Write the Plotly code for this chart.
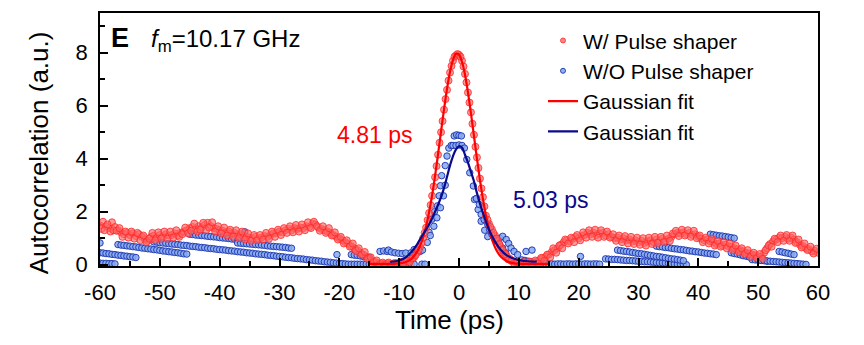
import numpy as np
import plotly.graph_objects as go

# ---------------- data ----------------
# W/ pulse shaper: samples every 0.5 ps from -60 ps
red_t0 = -60.0
red_dt = 0.5
red_v = [
    1.48, 1.62, 1.45, 1.38, 1.60, 1.42, 1.30, 1.22, 1.15, 1.20,   # -60
    1.12, 1.18, 1.08, 1.15, 1.05, 0.95, 0.90, 1.05, 1.10, 1.02,   # -55
    1.12, 1.08, 1.15, 1.10, 1.12, 1.18, 1.10, 1.20, 1.25, 1.30,   # -50
    1.38, 1.42, 1.35, 1.45, 1.40, 1.50, 1.58, 1.45, 1.38, 1.35,   # -45
    1.30, 1.28, 1.22, 1.25, 1.18, 1.20, 1.12, 1.15, 1.08, 1.05,   # -40
    1.02, 0.98, 1.05, 0.98, 1.02, 1.08, 1.05, 1.12, 1.18, 1.20,   # -35
    1.25, 1.22, 1.30, 1.35, 1.30, 1.38, 1.35, 1.40, 1.38, 1.45,   # -30
    1.42, 1.55, 1.52, 1.40, 1.35, 1.30, 1.25, 1.20, 1.12, 1.05,   # -25
    1.00, 0.92, 0.85, 0.78, 0.70, 0.62, 0.55, 0.45, 0.38, 0.30,   # -20
    0.22, 0.15, 0.10, 0.06, 0.04, 0.03, 0.05, 0.03, 0.04, 0.05,   # -15
    0.06, 0.08, 0.10, 0.14, 0.20, 0.28, 0.45, 0.68, 1.00, 1.40,   # -10
    1.95, 2.60, 3.30, 4.15, 5.00, 5.85, 6.60, 7.25, 7.70, 7.90,   # -5
    7.92, 7.70, 7.20, 6.50, 5.75, 4.90, 4.05, 3.25, 2.55, 1.85,   # 0
    1.55, 1.33, 1.10, 0.89, 0.65, 0.45, 0.32, 0.22, 0.13, 0.08,   # 5
    0.04, 0.05, 0.04, 0.06, 0.05, 0.08, 0.12, 0.18, 0.25, 0.30,   # 10
    0.38, 0.48, 0.55, 0.62, 0.75, 0.85, 0.92, 0.88, 0.98, 1.05,   # 15
    1.00, 1.08, 1.12, 1.20, 1.15, 1.20, 1.12, 1.18, 1.20, 1.10,   # 20
    1.15, 1.05, 1.00, 1.02, 0.95, 1.00, 0.92, 0.95, 0.88, 0.92,   # 25
    0.85, 0.90, 0.82, 0.88, 0.92, 0.85, 0.95, 0.90, 0.98, 0.92,   # 30
    0.98, 1.05, 1.15, 1.20, 1.18, 1.22, 1.15, 1.20, 1.12, 1.15,   # 35
    1.05, 0.98, 0.92, 0.95, 0.88, 0.85, 0.78, 0.80, 0.72, 0.75,   # 40
    0.70, 0.68, 0.62, 0.58, 0.55, 0.50, 0.45, 0.42, 0.38, 0.35,   # 45
    0.32, 0.30, 0.45, 0.62, 0.78, 0.88, 0.95, 1.02, 1.00, 1.05,   # 50
    0.98, 1.02, 0.95, 0.85, 0.75, 0.70, 0.62, 0.58, 0.50, 0.52,   # 55
    0.45,                                                         # 60
]
# W/ samples between the 0.5 ps grid, left baseline (from -59.75 ps)
red_left2_t0 = -59.75
red_left2_v = [
    1.35, 1.30, 1.52, 1.25, 1.30, 1.28, 1.38, 1.05, 1.25, 1.02,
    1.25, 0.98, 1.20, 0.92, 1.10, 0.85, 0.98, 1.20, 0.92, 1.22,
    0.98, 1.25, 0.98, 1.25, 1.02, 1.30, 1.05, 1.15, 1.40, 1.18,
    1.28, 1.55, 1.25, 1.32, 1.58, 1.30, 1.40, 1.60, 1.25, 1.45,
    1.18, 1.40, 1.10, 1.32, 1.05, 1.30, 1.00, 1.25, 0.95, 1.18,
    0.90, 1.12, 0.92, 1.12, 0.95, 1.20, 0.98, 1.25, 1.05, 1.32,
    1.12, 1.38, 1.20, 1.45, 1.22, 1.50, 1.25, 1.52, 1.30, 1.60,
    1.38, 1.62, 1.45, 1.28, 1.45, 1.20, 1.38, 1.10, 1.22, 0.95,
    1.05, 0.80, 0.92, 0.68, 0.80, 0.52, 0.62, 0.38, 0.48, 0.22,
    0.28, 0.10, 0.16, 0.02, 0.08, 0.00, 0.08, 0.01, 0.06, 0.02,
    0.10, 0.05, 0.14, 0.10,
]
# W/ samples between the 0.5 ps grid, right baseline (from 8.25 ps)
red_right2_t0 = 8.25
red_right2_v = [
    0.20, 0.14, 0.02, 0.10,
    0.00, 0.10, 0.01, 0.12, 0.02, 0.16, 0.04, 0.26, 0.14, 0.38,
    0.28, 0.62, 0.45, 0.72, 0.62, 0.95, 0.80, 1.02, 0.85, 1.12,
    0.92, 1.22, 1.02, 1.30, 1.05, 1.32, 1.02, 1.30, 1.05, 1.25,
    1.02, 1.15, 0.90, 1.10, 0.85, 1.08, 0.80, 1.05, 0.78, 1.02,
    0.75, 1.00, 0.72, 1.02, 0.78, 1.05, 0.82, 1.05, 0.85, 1.10,
    0.90, 1.18, 1.28, 1.08, 1.32, 1.10, 1.30, 1.05, 1.28, 1.00,
    1.10, 0.85, 1.02, 0.80, 0.98, 0.72, 0.90, 0.68, 0.85, 0.62,
    0.80, 0.55, 0.72, 0.48, 0.62, 0.40, 0.55, 0.30, 0.45, 0.25,
    0.40, 0.22, 0.55, 0.72, 0.68, 0.98, 0.85, 1.10, 0.90, 1.12,
    0.90, 1.10, 0.82, 0.95, 0.65, 0.80, 0.55, 0.68, 0.42, 0.60,
]
# extra W/ samples on the peak (between the 0.5 ps grid)
red_peak_t = [-7.75, -7.25, -6.75, -6.25, -5.75, -5.25, -4.75, -4.25,
              -3.75, -3.25, -2.75, -2.25, -1.75, -1.25, -0.75, -0.25,
              0.25, 0.75, 1.25, 1.75, 2.25, 2.75, 3.25, 3.75,
              4.25, 4.75, 5.25, 5.75, 6.25, 6.75, 7.25, 7.75]
red_peak_v = [0.24, 0.36, 0.55, 0.82, 1.20, 1.68, 2.25, 2.95,
              3.72, 4.60, 5.42, 6.25, 6.95, 7.50, 7.85, 7.95,
              7.85, 7.48, 6.88, 6.12, 5.32, 4.45, 3.65, 2.88,
              2.20, 1.70, 1.42, 1.20, 0.98, 0.78, 0.55, 0.40]

# W/O pulse shaper: interleaved stripes (start time, 0.5 ps spacing)
blue_dt = 0.5
blue_stripe_start = [-60.0, -60.0, -57.0, -51.0, -45.0, -37.0, -18.0,
                     10.5, 13.0, 24.5, 26.5, 33.0, 42.0, 45.5, 49.0, 53.5]
blue_stripe_values = [
    [0.06, 0.05, 0.05, 0.04, 0.04, 0.03],
    [0.45, 0.44, 0.42, 0.41, 0.39, 0.38, 0.36, 0.35, 0.33, 0.32, 0.30, 0.29, 0.27],
    [0.76, 0.74, 0.73, 0.71, 0.70, 0.68, 0.67, 0.65, 0.63, 0.62, 0.60, 0.59,
     0.57, 0.56, 0.54, 0.52, 0.51, 0.49, 0.48, 0.46, 0.45, 0.43, 0.41, 0.40],
    [0.86, 0.85, 0.83, 0.82, 0.81, 0.79, 0.78, 0.77, 0.76, 0.74,
     0.73, 0.72, 0.70, 0.69, 0.68, 0.66, 0.65, 0.64, 0.62, 0.61,
     0.60, 0.58, 0.57, 0.56, 0.55, 0.53, 0.52, 0.51, 0.49, 0.48,
     0.47, 0.45, 0.44, 0.43, 0.41, 0.40, 0.39, 0.38, 0.36, 0.35,
     0.34, 0.32, 0.31, 0.30, 0.28, 0.27, 0.26, 0.24, 0.23, 0.22,
     0.21, 0.19, 0.18, 0.17, 0.15, 0.14, 0.13, 0.11, 0.10, 0.09,
     0.07, 0.06, 0.05, 0.04, 0.03, 0.02, 0.02, 0.02, 0.02, 0.02,
     0.02, 0.02, 0.02, 0.02],
    [1.15, 1.14, 1.12, 1.11, 1.10, 1.09, 1.07, 1.06, 1.05, 1.04, 1.02, 1.01,
     1.00, 0.99, 0.97, 0.96, 0.95],
    [0.82, 0.81, 0.80, 0.79, 0.78, 0.77, 0.76, 0.75, 0.74, 0.73, 0.71, 0.70,
     0.69, 0.68, 0.67, 0.66, 0.65, 0.63, 0.62],
    [0.38, 0.36, 0.35, 0.33, 0.31, 0.30, 0.28],
    [0.18, 0.16, 0.13, 0.11, 0.08, 0.06],
    [0.04, 0.03, 0.03, 0.04, 0.03, 0.03, 0.02, 0.03, 0.03, 0.02, 0.03,
     0.03, 0.02, 0.03, 0.03, 0.02, 0.03, 0.03, 0.02, 0.03, 0.03, 0.02],
    [0.22, 0.21, 0.20, 0.20, 0.19, 0.18, 0.17, 0.16, 0.16, 0.15, 0.14, 0.13,
     0.12, 0.11, 0.11, 0.10, 0.09, 0.08, 0.07, 0.07, 0.06, 0.05, 0.04, 0.03,
     0.02, 0.02, 0.01, 0.00],
    [0.55, 0.53, 0.51, 0.50, 0.48, 0.46, 0.44, 0.42, 0.41, 0.39, 0.37, 0.35,
     0.33, 0.31, 0.30, 0.28, 0.26, 0.24, 0.22, 0.21, 0.19, 0.17, 0.15],
    [0.70, 0.68, 0.67, 0.65, 0.64, 0.62, 0.60, 0.59, 0.57, 0.56, 0.54, 0.52,
     0.51, 0.49, 0.48, 0.46, 0.44, 0.43, 0.41, 0.40, 0.38],
    [1.15, 1.13, 1.11, 1.09, 1.08, 1.06, 1.04, 1.02, 1.00],
    [0.45, 0.42, 0.40, 0.37, 0.34, 0.32, 0.29, 0.26, 0.24, 0.21, 0.18, 0.16, 0.13],
    [0.19, 0.18, 0.17, 0.16, 0.15, 0.14, 0.13, 0.12, 0.11, 0.10, 0.09, 0.08,
     0.07, 0.06, 0.05, 0.04, 0.03, 0.02, 0.01],
    [0.50, 0.48, 0.45, 0.43, 0.40, 0.38],
]
# W/O pulse shaper: individual points (peak region and isolated samples)
blue_pts_t = [-13.2, -12.6, -12.0, -11.8, -11.3, -10.7, -10.1, -9.5, -8.9, -8.0,
              -7.5, -7.0, -6.5, -6.1,
              -9.5, -9.0, -8.5, -8.0, -7.5, -6.2, -5.7,
              -5.3, -5.0, -4.8, -4.5, -4.2, -4.1, -3.7, -3.6, -3.3, -3.1,
              -3.1, -2.9, -2.6, -2.3, -2.3, -2.0, -1.7, -1.3, -1.0, -0.8,
              -0.4, 0.0, 0.4, -0.5, 0.0, 0.5, 0.9,
              1.3, 1.8, 2.4, 2.6, 3.2, 3.7, 4.3, 4.8,
              2.9, 3.4, 3.7, 4.2, 4.8, 5.1, 5.5, 5.9, 6.3, 6.8,
              7.3, 7.9, 8.3, 8.7, 9.2, 9.8, 6.2, 6.8, 7.3, 7.8,
              11.2, 12.2, 20.3, -20.4, -35.8, -60.0]
blue_pts_v = [0.50, 0.52, 0.50, 0.55, 0.48, 0.45, 0.43, 0.42, 0.44, 0.45,
              0.57, 0.55, 0.50, 0.55,
              0.02, 0.02, 0.02, 0.02, 0.02, 0.02, 0.02,
              0.84, 1.22, 1.10, 1.72, 1.45, 2.00, 1.77, 2.22, 2.60, 2.15,
              2.98, 3.36, 2.60, 3.00, 3.74, 4.10, 4.40, 4.50, 4.50, 4.86,
              4.90, 4.88, 4.86, 4.50, 4.52, 4.50, 4.40,
              3.97, 3.47, 2.97, 2.46, 2.08, 1.64, 1.30, 1.06,
              2.50, 2.27, 1.90, 1.70, 1.52, 1.33, 1.15, 1.00, 0.95, 1.00,
              1.07, 0.95, 0.80, 0.63, 0.50, 0.38, 0.90, 0.75, 0.62, 0.45,
              0.50, 0.55, 0.31, 0.38, 1.24, 0.82]

# Gaussian fits
red_fit_t = [-15, -13, -11, -10, -9, -8, -7, -6.5, -6, -5.5, -5, -4.5, -4, -3.5,
             -3, -2.5, -2, -1.5, -1, -0.5, 0, 0.5, 1, 1.5, 2, 2.5, 3, 3.5, 4,
             4.5, 5, 5.5, 6, 6.5, 7, 8, 9, 10, 11, 13, 15]
red_fit_v = [0.03, 0.03, 0.03, 0.05, 0.09, 0.21, 0.49, 0.72, 1.03, 1.45, 1.98,
             2.61, 3.35, 4.17, 5.03, 5.87, 6.64, 7.28, 7.73, 7.96, 7.93, 7.66,
             7.17, 6.50, 5.71, 4.86, 4.00, 3.20, 2.48, 1.86, 1.36, 0.96, 0.67,
             0.45, 0.30, 0.13, 0.06, 0.04, 0.03, 0.03, 0.03]
blue_fit_t = [-11.5, -10, -9, -8, -7, -6, -5, -4, -3, -2.5, -2, -1.5, -1, -0.5,
              0, 0.5, 1, 1.5, 2, 2.5, 3, 4, 5, 6, 7, 8, 9, 10, 11, 12, 13]
blue_fit_v = [0.10, 0.16, 0.26, 0.47, 0.77, 1.15, 1.52, 2.00, 2.55, 2.90, 3.32,
              3.75, 4.10, 4.35, 4.47, 4.42, 4.15, 3.85, 3.50, 3.15, 2.70, 1.95,
              1.33, 0.88, 0.55, 0.35, 0.24, 0.17, 0.14, 0.12, 0.12]

x_range = [-60, 60]
y_range = [-0.05, 9.5]
x_tick_vals = [-60, -50, -40, -30, -20, -10, 0, 10, 20, 30, 40, 50, 60]
x_tick_text = ["-60", "-50", "-40", "-30", "-20", "-10", "0", "10", "20", "30", "40", "50", "60"]

# ---------------- assemble ----------------
red_x = (list(red_t0 + red_dt * np.arange(len(red_v)))
         + list(red_left2_t0 + red_dt * np.arange(len(red_left2_v)))
         + list(red_right2_t0 + red_dt * np.arange(len(red_right2_v)))
         + red_peak_t)
red_y = list(red_v) + red_left2_v + red_right2_v + red_peak_v

blue_x, blue_y = [], []
for s, vals in zip(blue_stripe_start, blue_stripe_values):
    blue_x += list(s + blue_dt * np.arange(len(vals)))
    blue_y += vals
blue_x += blue_pts_t
blue_y += blue_pts_v

FONT = "Liberation Sans, Arial, sans-serif"
RED = "#ff0000"
NAVY = "#0a0a8c"

fig = go.Figure()
blue_marker = dict(size=6.5, color="rgba(135,170,238,0.85)",
                   line=dict(color="rgba(25,50,175,0.9)", width=1))
red_marker = dict(size=7, color="rgba(255,100,100,0.65)",
                  line=dict(color="rgba(255,40,40,0.8)", width=1))

fig.add_trace(go.Scatter(x=blue_x, y=blue_y, mode="markers", marker=blue_marker,
                         showlegend=False))
fig.add_trace(go.Scatter(x=red_x, y=red_y, mode="markers", marker=red_marker,
                         showlegend=False))
fig.add_trace(go.Scatter(x=red_fit_t, y=red_fit_v, mode="lines", line_shape="spline",
                         line=dict(color=RED, width=2.2), showlegend=False))
fig.add_trace(go.Scatter(x=blue_fit_t, y=blue_fit_v, mode="lines", line_shape="spline",
                         line=dict(color=NAVY, width=2.2), showlegend=False))

# legend entries
fig.add_trace(go.Scatter(x=[None], y=[None], mode="markers", name="W/ Pulse shaper",
                         marker=dict(size=5, color="rgba(255,100,100,0.8)",
                                     line=dict(color="rgba(255,40,40,0.8)", width=1))))
fig.add_trace(go.Scatter(x=[None], y=[None], mode="markers", name="W/O Pulse shaper",
                         marker=dict(size=5, color="rgba(135,170,238,0.9)",
                                     line=dict(color="rgba(25,50,175,0.9)", width=1))))
fig.add_trace(go.Scatter(x=[None], y=[None], mode="lines", name="Gaussian fit",
                         line=dict(color=RED, width=2.2)))
fig.add_trace(go.Scatter(x=[None], y=[None], mode="lines", name="Gaussian fit ",
                         line=dict(color=NAVY, width=2.2)))

axis_common = dict(showline=True, linewidth=1.5, linecolor="black", mirror=True,
                   showgrid=False, zeroline=False, ticks="inside", ticklen=8,
                   tickwidth=1.5, tickcolor="black",
                   tickfont=dict(family=FONT, size=22, color="black"))
fig.update_xaxes(range=x_range, tickmode="array", tickvals=x_tick_vals, ticktext=x_tick_text,
                 minor=dict(ticks="inside", ticklen=5,
                            tickvals=list(np.arange(-60, 61, 5)),
                            tickwidth=1.5, tickcolor="black"),
                 ticklabelstandoff=6, **axis_common)
fig.update_yaxes(range=y_range, tick0=0, dtick=2,
                 minor=dict(ticks="inside", ticklen=5, dtick=1, tick0=0,
                            tickwidth=1.5, tickcolor="black"),
                 ticklabelstandoff=6, **axis_common)

# axis titles
fig.add_annotation(text="Time (ps)", xref="paper", yref="paper", x=0.487, y=-0.215,
                   xanchor="center", yanchor="middle", showarrow=False,
                   font=dict(family=FONT, size=26, color="black"))
fig.add_annotation(text="Autocorrelation (a.u.)", xref="paper", yref="paper",
                   x=-0.085, y=0.449, textangle=-90, xanchor="center", yanchor="middle",
                   showarrow=False, font=dict(family=FONT, size=26, color="black"))

fig.add_annotation(text="<b>E</b>", xref="paper", yref="paper", x=0.028, y=0.9,
                   xanchor="center", yanchor="middle", showarrow=False,
                   font=dict(family=FONT, size=27, color="black"))
fig.add_annotation(text="<i>f</i><sub>m</sub>=10.17 GHz", xref="paper", yref="paper",
                   x=0.068, y=0.89, xanchor="left", yanchor="middle", showarrow=False,
                   font=dict(family=FONT, size=24, color="black"))
fig.add_annotation(text="4.81 ps", xref="paper", yref="paper", x=0.383, y=0.518,
                   xanchor="center", yanchor="middle", showarrow=False,
                   font=dict(family=FONT, size=23, color=RED))
fig.add_annotation(text="5.03 ps", xref="paper", yref="paper", x=0.628, y=0.262,
                   xanchor="center", yanchor="middle", showarrow=False,
                   font=dict(family=FONT, size=23, color=NAVY))

fig.update_layout(
    width=864, height=345,
    margin=dict(l=100, r=46, t=13, b=79),
    paper_bgcolor="white", plot_bgcolor="white",
    font=dict(family=FONT, color="black"),
    legend=dict(x=0.617, y=0.971, xanchor="left", yanchor="top",
                bgcolor="rgba(0,0,0,0)", borderwidth=0,
                font=dict(family=FONT, size=21, color="black"),
                tracegroupgap=0, itemsizing="trace"),
)

fig.write_html("out.html")
